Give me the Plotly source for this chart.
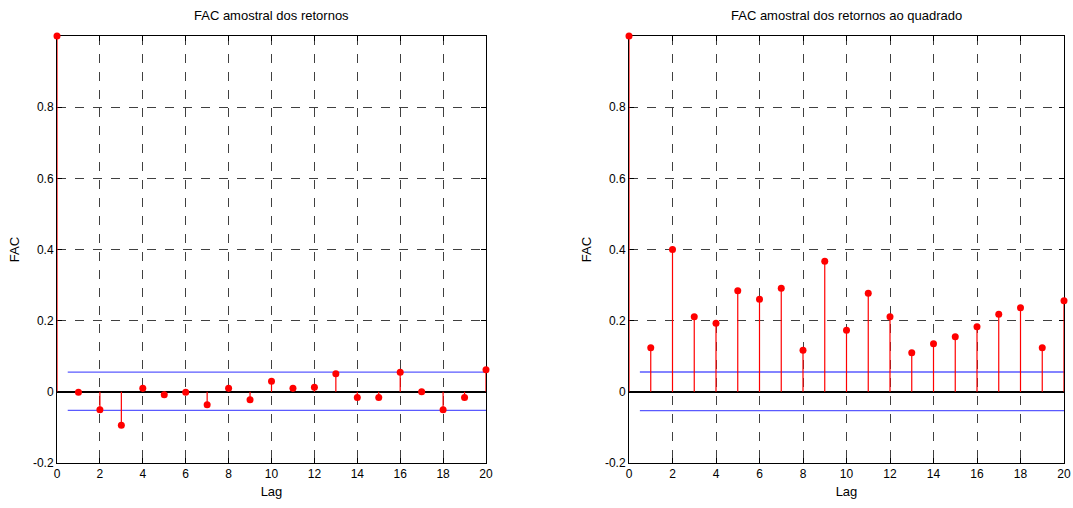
import plotly.graph_objects as go

lags = list(range(0, 21))
acf_ret = [1.0, -0.001, -0.050, -0.094, 0.010, -0.008, -0.001, -0.036, 0.010, -0.022,
           0.030, 0.010, 0.013, 0.051, -0.016, -0.016, 0.055, 0.0, -0.050, -0.016, 0.062]
acf_sq = [1.0, 0.124, 0.400, 0.211, 0.193, 0.284, 0.260, 0.291, 0.117, 0.367,
          0.173, 0.277, 0.211, 0.110, 0.135, 0.155, 0.183, 0.218, 0.236, 0.124, 0.256]
bound_ret = [0.0555, -0.052]
bound_sq = [0.0557, -0.053]
bound_x = [0.5, 20]
titles = ["FAC amostral dos retornos", "FAC amostral dos retornos ao quadrado"]
ytick_vals = [-0.2, 0, 0.2, 0.4, 0.6, 0.8]
ytick_text = ["-0.2", "0", "0.2", "0.4", "0.6", "0.8"]
xtick_vals = list(range(0, 21, 2))

FONT = "Liberation Sans, Arial, sans-serif"
fig = go.Figure()

domains_x = [[57/1073, 486/1073], [629/1073, 1064/1073]]
ydom = [1 - 463/508, 1 - 36/508]

for i, (vals, bnd) in enumerate([(acf_ret, bound_ret), (acf_sq, bound_sq)]):
    xa = "x" if i == 0 else "x2"
    ya = "y" if i == 0 else "y2"
    sx, sy = [], []
    for l, v in zip(lags, vals):
        sx += [l, l, None]
        sy += [0, v, None]
    for b in bnd:
        fig.add_trace(go.Scatter(x=bound_x, y=[b, b], mode="lines",
                                 line=dict(color="rgb(90,90,255)", width=1.3),
                                 xaxis=xa, yaxis=ya, showlegend=False, hoverinfo="skip"))
    fig.add_trace(go.Scatter(x=sx, y=sy, mode="lines", line=dict(color="red", width=1.2),
                             xaxis=xa, yaxis=ya, showlegend=False, hoverinfo="skip",
                             cliponaxis=False))
    fig.add_trace(go.Scatter(x=lags, y=vals, mode="markers",
                             marker=dict(color="red", size=7),
                             xaxis=xa, yaxis=ya, showlegend=False, cliponaxis=False))

axis_common = dict(showline=True, linecolor="black", linewidth=1, mirror="ticks",
                   ticks="inside", ticklen=5, tickcolor="black",
                   showgrid=True, gridcolor="rgba(0,0,0,0.75)", griddash="dash", gridwidth=1,
                   tickfont=dict(family=FONT, size=12, color="black"), automargin=False,
                   layer="below traces")

for i in range(2):
    sfx = "" if i == 0 else "2"
    fig.update_layout(**{
        "xaxis" + sfx: dict(axis_common, domain=domains_x[i], range=[0, 20], tickvals=xtick_vals,
                             zeroline=False, anchor="y" + sfx,
                             title=dict(text="Lag", font=dict(family=FONT, size=13, color="black"), standoff=6)),
        "yaxis" + sfx: dict(axis_common, domain=ydom, range=[-0.2, 1.0], tickvals=ytick_vals,
                             ticktext=ytick_text, zeroline=True, zerolinecolor="black", zerolinewidth=1.5,
                             anchor="x" + sfx,
                             title=dict(text="FAC", font=dict(family=FONT, size=13, color="black"), standoff=10)),
    })

for i in range(2):
    cx = (domains_x[i][0] + domains_x[i][1]) / 2
    fig.add_annotation(text=titles[i], x=cx, y=1 - 16/508, xref="paper", yref="paper",
                       showarrow=False, font=dict(family=FONT, size=13, color="black"),
                       xanchor="center", yanchor="middle")

fig.update_layout(width=1073, height=508, margin=dict(l=0, r=0, t=0, b=0),
                  paper_bgcolor="white", plot_bgcolor="white")
fig.write_html("out.html")
